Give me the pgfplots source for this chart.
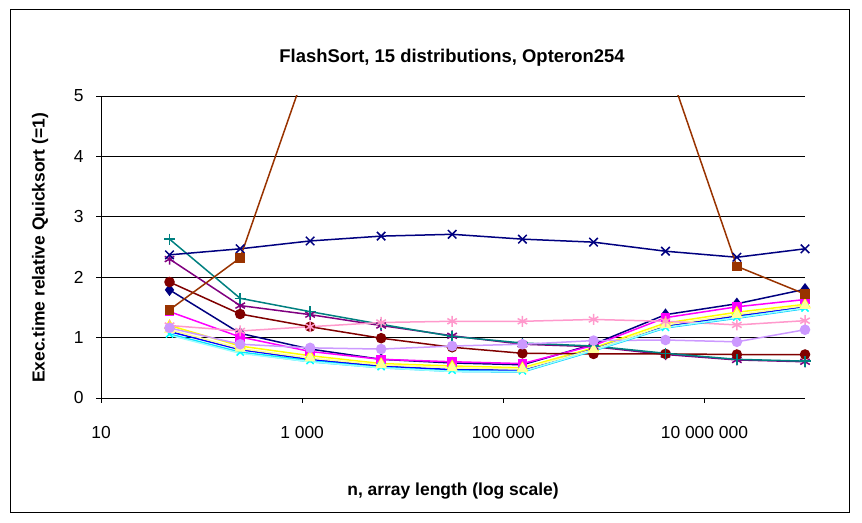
\documentclass[border=0pt]{standalone}
\usepackage{fontspec}
\setmainfont{Liberation Sans}
\usepackage{pgfplots}
\pgfplotsset{compat=1.18}
\definecolor{cNavy}{HTML}{000080}
\definecolor{cMag}{HTML}{FF00FF}
\definecolor{cYel}{HTML}{FFFF00}
\definecolor{cCyan}{HTML}{00FFFF}
\definecolor{cPur}{HTML}{800080}
\definecolor{cMar}{HTML}{800000}
\definecolor{cTeal}{HTML}{008080}
\definecolor{cBlue}{HTML}{0000FF}
\definecolor{cBrown}{HTML}{993300}
\definecolor{cPaleY}{HTML}{FFFF99}
\definecolor{cPink}{HTML}{FF99CC}
\definecolor{cLav}{HTML}{CC99FF}
\definecolor{cSky}{HTML}{00CCFF}
\definecolor{cLtTq}{HTML}{99FFFF}
\begin{document}
\begin{tikzpicture}[x=1bp,y=1bp]
\path[use as bounding box] (0,0) rectangle (862,523);
\fill[white] (0,0) rectangle (862,523);
\draw[black, line width=1bp] (10.5,10.5) rectangle (849,513);
\node[font=\bfseries\fontsize{18.5}{22}\selectfont] at (452,465) {FlashSort, 15 distributions, Opteron254};
\node[font=\bfseries\fontsize{17.5}{21}\selectfont, rotate=90] at (40,275) {Exec.time relative Quicksort (=1)};
\node[font=\bfseries\fontsize{17.5}{21}\selectfont] at (453,32) {n, array length (log scale)};
\begin{axis}[at={(101bp,125bp)}, anchor=south west, scale only axis,
  width=704bp, height=302bp,
  xmode=log, xmin=10, xmax=1e8, ymin=0, ymax=5,
  axis x line*=bottom, axis y line*=left,
  axis line style={-, black, line width=0.8bp},
  xtick={10,1000,100000,10000000},
  xticklabels={10, 1 000, 100 000, 10 000 000},
  minor xtick={}, minor ytick={},
  ytick={0,1,2,3,4,5},
  ymajorgrids, grid style={black, line width=0.8bp},
  tick align=outside, major tick length=5bp,
  tick style={black, line width=0.8bp},
  /pgf/number format/assume math mode=true,
  ticklabel style={font=\fontsize{17.5}{21}\selectfont},
  yticklabel style={xshift=-9bp},
  xticklabel style={yshift=-20bp},
  every axis plot/.append style={line width=1.5bp},
]
% 1 navy diamond
\addplot[color=cNavy, mark=diamond*, mark size=5bp, mark options={solid}] coordinates {
(48,1.79) (242,1.07) (1200,0.81) (6100,0.64) (31000,0.58) (155000,0.55) (790000,0.89) (4100000,1.38) (21000000,1.56) (100000000,1.80)};
% 2 magenta square
\addplot[color=cMag, mark=square*, mark size=4bp] coordinates {
(48,1.43) (242,1.01) (1200,0.77) (6100,0.64) (31000,0.60) (155000,0.57) (790000,0.87) (4100000,1.33) (21000000,1.51) (100000000,1.63)};
% 3 yellow triangle
\addplot[color=cYel, mark=triangle*, mark size=5bp] coordinates {
(48,1.20) (242,0.86) (1200,0.70) (6100,0.57) (31000,0.53) (155000,0.50) (790000,0.83) (4100000,1.24) (21000000,1.42) (100000000,1.55)};
% 4 cyan x
\addplot[color=cCyan, mark=x, mark size=5bp] coordinates {
(48,1.06) (242,0.76) (1200,0.62) (6100,0.52) (31000,0.46) (155000,0.45) (790000,0.80) (4100000,1.17) (21000000,1.34) (100000000,1.49)};
% 5 purple asterisk
\addplot[color=cPur, mark=asterisk, mark size=5.5bp] coordinates {
(48,2.30) (242,1.53) (1200,1.38) (6100,1.20) (31000,1.03) (155000,0.89) (790000,0.85) (4100000,0.72) (21000000,0.63) (100000000,0.60)};
% 6 maroon circle
\addplot[color=cMar, mark=*, mark size=4.5bp] coordinates {
(48,1.92) (242,1.39) (1200,1.18) (6100,0.99) (31000,0.84) (155000,0.74) (790000,0.73) (4100000,0.73) (21000000,0.72) (100000000,0.72)};
% 7 teal plus
\addplot[color=cTeal, mark=+, mark size=5.5bp] coordinates {
(48,2.63) (242,1.65) (1200,1.43) (6100,1.22) (31000,1.02) (155000,0.91) (790000,0.86) (4100000,0.74) (21000000,0.64) (100000000,0.61)};
% 8 blue
\addplot[color=cBlue, mark=none] coordinates {
(48,1.10) (242,0.80) (1200,0.64) (6100,0.53) (31000,0.47) (155000,0.46) (790000,0.81) (4100000,1.19) (21000000,1.36) (100000000,1.51)};
% 9 navy X
\addplot[color=cNavy, mark=x, mark size=6bp] coordinates {
(48,2.37) (242,2.47) (1200,2.60) (6100,2.68) (31000,2.71) (155000,2.63) (790000,2.58) (4100000,2.43) (21000000,2.33) (100000000,2.47)};
% 10 brown square (line incl. off-chart values, marks for visible points)
\addplot[color=cBrown, mark=none] coordinates {
(48,1.46) (242,2.32) (1200,5.65) (6100,6.5) (31000,7.0) (155000,7.0) (790000,6.5) (4100000,5.62) (21000000,2.18) (100000000,1.72)};
\addplot[color=cBrown, only marks, mark=square*, mark size=4bp] coordinates {
(48,1.46) (242,2.32) (21000000,2.18) (100000000,1.72)};
% 11 pale yellow triangle
\addplot[color=cPaleY, mark=triangle*, mark size=5bp] coordinates {
(48,1.13) (242,0.82) (1200,0.66) (6100,0.55) (31000,0.50) (155000,0.48) (790000,0.80) (4100000,1.21) (21000000,1.38) (100000000,1.53)};
% 12 pink asterisk
\addplot[color=cPink, mark=asterisk, mark size=5.5bp] coordinates {
(48,1.20) (242,1.11) (1200,1.18) (6100,1.25) (31000,1.27) (155000,1.27) (790000,1.30) (4100000,1.27) (21000000,1.21) (100000000,1.28)};
% 13 lavender circle
\addplot[color=cLav, mark=*, mark size=4.5bp] coordinates {
(48,1.16) (242,0.89) (1200,0.83) (6100,0.81) (31000,0.86) (155000,0.89) (790000,0.95) (4100000,0.96) (21000000,0.93) (100000000,1.13)};
% 14 sky blue
\addplot[color=cSky, mark=none] coordinates {
(48,1.05) (242,0.75) (1200,0.60) (6100,0.50) (31000,0.44) (155000,0.43) (790000,0.78) (4100000,1.16) (21000000,1.32) (100000000,1.48)};
% 15 light turquoise
\addplot[color=cLtTq, mark=none] coordinates {
(48,1.04) (242,0.74) (1200,0.60) (6100,0.50) (31000,0.44) (155000,0.44) (790000,0.79) (4100000,1.17) (21000000,1.33) (100000000,1.49)};
\end{axis}
\end{tikzpicture}
\end{document}
